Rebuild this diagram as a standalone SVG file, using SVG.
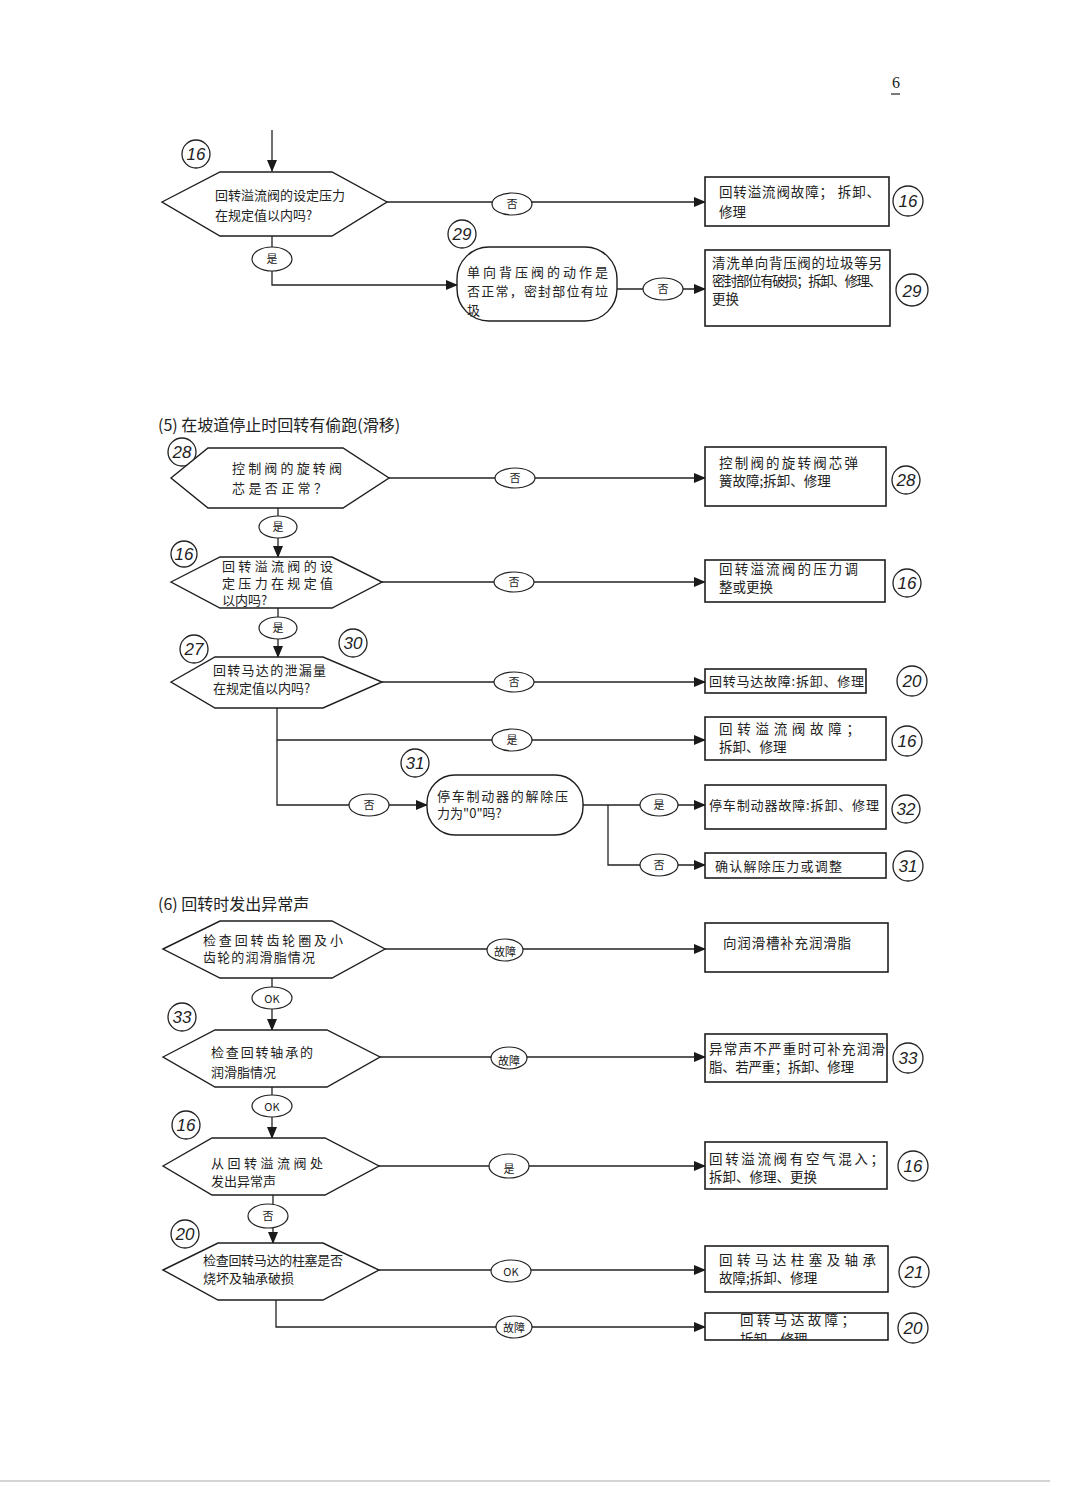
<svg xmlns="http://www.w3.org/2000/svg" width="1080" height="1486" viewBox="0 0 1080 1486">
<defs>
<marker id="arr" markerWidth="12" markerHeight="10" refX="11" refY="5" orient="auto" markerUnits="userSpaceOnUse">
<path d="M0,0 L12,5 L0,10 z" fill="#1a1a1a"/>
</marker>
<clipPath id="clip13"><rect x="705" y="1313" width="183" height="27"/></clipPath>
<style>
.shape{fill:#fff;stroke:#1e1e1e;stroke-width:1.4}
.box{fill:#fff;stroke:#1e1e1e;stroke-width:1.6}
.con{fill:none;stroke:#222;stroke-width:1.3;marker-end:url(#arr)}
.lab{fill:#fff;stroke:#222;stroke-width:1.2}
.t{font-family:"Noto Sans CJK SC","Noto Sans CJK JP",sans-serif;font-size:13px;fill:#222}
.tb{font-family:"Noto Sans CJK SC","Noto Sans CJK JP",sans-serif;font-size:13.5px;fill:#222}
.tl{font-family:"Noto Sans CJK SC","Liberation Serif",serif;font-size:11px;fill:#222;text-anchor:middle}
.num{font-family:"Liberation Sans",sans-serif;font-size:17px;font-style:italic;fill:#222;text-anchor:middle}
.ring{fill:none;stroke:#222;stroke-width:1.3}
.title{font-family:"Noto Sans CJK SC",sans-serif;font-size:16px;fill:#222}
</style>
</defs>
<rect width="1080" height="1486" fill="#fff"/>
<text x="896" y="88" font-family="Liberation Serif,serif" font-size="16" fill="#222" text-anchor="middle">6</text>
<line x1="891" y1="94" x2="900" y2="94" stroke="#333" stroke-width="1.3"/>
<line x1="0" y1="1481" x2="1050" y2="1481" stroke="#aaa" stroke-width="1.2"/>

<g id="connectors">
<path class="con" d="M272,130 V171"/>
<path class="con" d="M387,202 H705"/>
<path class="con" d="M272,236 V285 H457"/>
<path class="con" d="M617,289 H705"/>
<path class="con" d="M389,478 H705"/>
<path class="con" d="M278,508 V557"/>
<path class="con" d="M382,582 H705"/>
<path class="con" d="M278,608 V657"/>
<path class="con" d="M382,682 H705"/>
<path class="con" d="M277,708 V740 H705"/>
<path class="con" d="M277,740 V805 H427"/>
<path class="con" d="M583,805 H705"/>
<path class="con" d="M608,805 V865 H705"/>
<path class="con" d="M385,949 H705"/>
<path class="con" d="M272,978 V1030"/>
<path class="con" d="M380,1057 H705"/>
<path class="con" d="M272,1087 V1138"/>
<path class="con" d="M379,1166 H705"/>
<path class="con" d="M273,1195 V1243"/>
<path class="con" d="M379,1270 H705"/>
<path class="con" d="M276,1300 V1327 H705"/>
<g id="labels">
<ellipse class="lab" cx="512" cy="204" rx="20" ry="11"/><text class="tl" x="512" y="208">否</text>
<ellipse class="lab" cx="272" cy="259" rx="20" ry="12"/><text class="tl" x="272" y="263">是</text>
<ellipse class="lab" cx="663" cy="289" rx="20" ry="11"/><text class="tl" x="663" y="293">否</text>
<ellipse class="lab" cx="515" cy="478" rx="20" ry="10"/><text class="tl" x="515" y="482">否</text>
<ellipse class="lab" cx="278" cy="527" rx="19" ry="11"/><text class="tl" x="278" y="531">是</text>
<ellipse class="lab" cx="514" cy="582" rx="20" ry="10"/><text class="tl" x="514" y="586">否</text>
<ellipse class="lab" cx="278" cy="628" rx="19" ry="11"/><text class="tl" x="278" y="632">是</text>
<ellipse class="lab" cx="514" cy="682" rx="20" ry="10"/><text class="tl" x="514" y="686">否</text>
<ellipse class="lab" cx="512" cy="740" rx="20" ry="11"/><text class="tl" x="512" y="744">是</text>
<ellipse class="lab" cx="369" cy="805" rx="20" ry="11"/><text class="tl" x="369" y="809">否</text>
<ellipse class="lab" cx="659" cy="805" rx="19" ry="11"/><text class="tl" x="659" y="809">是</text>
<ellipse class="lab" cx="659" cy="865" rx="19" ry="11"/><text class="tl" x="659" y="869">否</text>
<ellipse class="lab" cx="505" cy="950" rx="18" ry="11"/><text class="tl" x="505" y="956" font-size="10">故障</text>
<ellipse class="lab" cx="272" cy="998" rx="20" ry="11"/><text class="tl" x="272" y="1003" font-size="13" font-family="Liberation Serif,serif">OK</text>
<ellipse class="lab" cx="509" cy="1058" rx="18" ry="11"/><text class="tl" x="509" y="1065" font-size="10">故障</text>
<ellipse class="lab" cx="272" cy="1106" rx="20" ry="11"/><text class="tl" x="272" y="1111" font-size="13" font-family="Liberation Serif,serif">OK</text>
<ellipse class="lab" cx="509" cy="1166" rx="20" ry="12"/><text class="tl" x="509" y="1173">是</text>
<ellipse class="lab" cx="268" cy="1216" rx="20" ry="12"/><text class="tl" x="268" y="1220">否</text>
<ellipse class="lab" cx="511" cy="1271" rx="20" ry="11"/><text class="tl" x="511" y="1276" font-size="13" font-family="Liberation Serif,serif">OK</text>
<ellipse class="lab" cx="514" cy="1327" rx="18" ry="11"/><text class="tl" x="514" y="1332" font-size="10">故障</text>
</g>
</g>

<!-- Top section -->
<g id="n16a">
<circle class="ring" cx="196" cy="154" r="14"/><text class="num" x="196" y="160">16</text>
<polygon class="shape" points="162,202 220,172 332,172 387,202 332,236 220,236"/>
<text class="t" x="215" y="200" textLength="130" lengthAdjust="spacing">回转溢流阀的设定压力</text>
<text class="t" x="215" y="220">在规定值以内吗?</text>
</g>
<g id="r16a">
<rect class="box" x="705" y="177" width="184" height="49"/>
<text class="tb" x="719" y="197" textLength="161" lengthAdjust="spacing">回转溢流阀故障； 拆卸、</text>
<text class="tb" x="719" y="217">修理</text>
<circle class="ring" cx="908" cy="201" r="15"/><text class="num" x="908" y="207">16</text>
</g>
<g id="n29">
<circle class="ring" cx="462" cy="234" r="14"/><text class="num" x="462" y="240">29</text>
<rect class="shape" x="457" y="247" width="160" height="74" rx="32" ry="32"/>
<text class="t" x="467" y="277" textLength="141" lengthAdjust="spacing">单向背压阀的动作是</text>
<text class="t" x="467" y="296" textLength="141" lengthAdjust="spacing">否正常，密封部位有垃</text>
<text class="t" x="467" y="315">圾</text>
</g>
<g id="r29">
<rect class="box" x="705" y="250" width="185" height="76"/>
<text class="tb" x="712" y="268" textLength="170" lengthAdjust="spacing">清洗单向背压阀的垃圾等另</text>
<text class="tb" x="712" y="286" textLength="170" lengthAdjust="spacing">密封部位有破损；拆卸、修理、</text>
<text class="tb" x="712" y="304">更换</text>
<circle class="ring" cx="912" cy="290" r="16"/><text class="num" x="912" y="297" font-size="19">29</text>
</g>

<!-- Section 5 -->
<text class="title" x="158" y="431">(5)  在坡道停止时回转有偷跑(滑移)</text>
<g id="n28">
<circle class="ring" cx="182" cy="452" r="14"/><text class="num" x="182" y="458">28</text>
<polygon class="shape" points="171,478 208,448 343,448 389,478 343,508 208,508"/>
<text class="t" x="232" y="473" textLength="110" lengthAdjust="spacing">控制阀的旋转阀</text>
<text class="t" x="232" y="493" textLength="95" lengthAdjust="spacing">芯是否正常？</text>
</g>
<g id="r28">
<rect class="box" x="705" y="447" width="181" height="59"/>
<text class="tb" x="719" y="468" textLength="139" lengthAdjust="spacing">控制阀的旋转阀芯弹</text>
<text class="tb" x="719" y="486">簧故障;拆卸、修理</text>
<circle class="ring" cx="906" cy="480" r="14"/><text class="num" x="906" y="486">28</text>
</g>
<g id="n16b">
<circle class="ring" cx="184" cy="554" r="13"/><text class="num" x="184" y="560">16</text>
<polygon class="shape" points="171,582 220,557 332,557 382,582 332,608 220,608"/>
<text class="t" x="222" y="571" font-size="12" textLength="111" lengthAdjust="spacing">回转溢流阀的设</text>
<text class="t" x="222" y="588" font-size="12" textLength="111" lengthAdjust="spacing">定压力在规定值</text>
<text class="t" x="222" y="605" font-size="12">以内吗?</text>
</g>
<g id="r16b">
<rect class="box" x="705" y="560" width="180" height="42"/>
<text class="tb" x="719" y="574" font-size="13" textLength="139" lengthAdjust="spacing">回转溢流阀的压力调</text>
<text class="tb" x="719" y="592" font-size="13">整或更换</text>
<circle class="ring" cx="907" cy="583" r="14"/><text class="num" x="907" y="589">16</text>
</g>
<g id="n27">
<circle class="ring" cx="194" cy="649" r="14"/><text class="num" x="194" y="655">27</text>
<circle class="ring" cx="353" cy="643" r="14"/><text class="num" x="353" y="649">30</text>
<polygon class="shape" points="171,682 215,657 323,657 382,682 323,708 215,708"/>
<text class="t" x="213" y="675" textLength="113" lengthAdjust="spacing">回转马达的泄漏量</text>
<text class="t" x="213" y="693">在规定值以内吗?</text>
</g>
<g id="r20a">
<rect class="box" x="705" y="669" width="161" height="24"/>
<text class="t" x="709" y="686" font-size="12" textLength="155" lengthAdjust="spacing">回转马达故障:拆卸、修理</text>
<circle class="ring" cx="912" cy="681" r="15"/><text class="num" x="912" y="687">20</text>
</g>
<g id="r16c">
<rect class="box" x="705" y="717" width="181" height="43"/>
<text class="tb" x="719" y="734" textLength="141" lengthAdjust="spacing">回转溢流阀故障；</text>
<text class="tb" x="719" y="752">拆卸、修理</text>
<circle class="ring" cx="907" cy="741" r="15"/><text class="num" x="907" y="747">16</text>
</g>
<g id="n31">
<circle class="ring" cx="415" cy="763" r="14"/><text class="num" x="415" y="769">31</text>
<rect class="shape" x="427" y="775" width="156" height="60" rx="28" ry="28"/>
<text class="t" x="437" y="801" font-size="12.5" textLength="131" lengthAdjust="spacing">停车制动器的解除压</text>
<text class="t" x="437" y="818" font-size="12">力为"0"吗?</text>
</g>
<g id="r32">
<rect class="box" x="705" y="785" width="181" height="44"/>
<text class="t" x="709" y="810" font-size="12.5" textLength="170" lengthAdjust="spacing">停车制动器故障:拆卸、修理</text>
<circle class="ring" cx="906" cy="809" r="14"/><text class="num" x="906" y="815">32</text>
</g>
<g id="r31">
<rect class="box" x="705" y="853" width="181" height="25"/>
<text class="t" x="715" y="871" font-size="12.5" textLength="127" lengthAdjust="spacing">确认解除压力或调整</text>
<circle class="ring" cx="908" cy="866" r="15"/><text class="num" x="908" y="872">31</text>
</g>

<!-- Section 6 -->
<text class="title" x="158" y="910">(6)  回转时发出异常声</text>
<g id="n-gear">
<polygon class="shape" points="163,949 220,921 332,921 385,949 332,978 220,978"/>
<text class="t" x="203" y="945" font-size="12" textLength="140" lengthAdjust="spacing">检查回转齿轮圈及小</text>
<text class="t" x="203" y="962" font-size="12" textLength="112" lengthAdjust="spacing">齿轮的润滑脂情况</text>
</g>
<g id="r-grease">
<rect class="box" x="705" y="923" width="183" height="49"/>
<text class="tb" x="723" y="948" textLength="128" lengthAdjust="spacing">向润滑槽补充润滑脂</text>
</g>
<g id="n33">
<circle class="ring" cx="182" cy="1017" r="14"/><text class="num" x="182" y="1023">33</text>
<polygon class="shape" points="163,1057 215,1030 327,1030 380,1057 327,1087 215,1087"/>
<text class="t" x="211" y="1057" textLength="102" lengthAdjust="spacing">检查回转轴承的</text>
<text class="t" x="211" y="1077">润滑脂情况</text>
</g>
<g id="r33">
<rect class="box" x="705" y="1034" width="182" height="48"/>
<text class="tb" x="709" y="1054" font-size="13" textLength="176" lengthAdjust="spacing">异常声不严重时可补充润滑</text>
<text class="tb" x="709" y="1072" font-size="13" textLength="145" lengthAdjust="spacing">脂、若严重；拆卸、修理</text>
<circle class="ring" cx="908" cy="1058" r="15"/><text class="num" x="908" y="1064">33</text>
</g>
<g id="n16c">
<circle class="ring" cx="186" cy="1125" r="14"/><text class="num" x="186" y="1131">16</text>
<polygon class="shape" points="163,1166 212,1138 325,1138 379,1166 325,1195 212,1195"/>
<text class="t" x="211" y="1168" textLength="112" lengthAdjust="spacing">从回转溢流阀处</text>
<text class="t" x="211" y="1186">发出异常声</text>
</g>
<g id="r16d">
<rect class="box" x="705" y="1142" width="182" height="47"/>
<text class="tb" x="709" y="1164" font-size="13" textLength="175" lengthAdjust="spacing">回转溢流阀有空气混入；</text>
<text class="tb" x="709" y="1182" font-size="13">拆卸、修理、更换</text>
<circle class="ring" cx="913" cy="1166" r="15"/><text class="num" x="913" y="1172">16</text>
</g>
<g id="n20">
<circle class="ring" cx="185" cy="1234" r="14"/><text class="num" x="185" y="1240">20</text>
<polygon class="shape" points="163,1270 218,1243 323,1243 379,1270 323,1300 218,1300"/>
<text class="t" x="203" y="1265" textLength="140" lengthAdjust="spacing">检查回转马达的柱塞是否</text>
<text class="t" x="203" y="1283">烧坏及轴承破损</text>
</g>
<g id="r21">
<rect class="box" x="705" y="1246" width="183" height="46"/>
<text class="tb" x="719" y="1265" textLength="157" lengthAdjust="spacing">回转马达柱塞及轴承</text>
<text class="tb" x="719" y="1283">故障;拆卸、修理</text>
<circle class="ring" cx="914" cy="1272" r="15"/><text class="num" x="914" y="1278">21</text>
</g>
<g id="r20b">
<rect class="box" x="705" y="1313" width="183" height="27"/>
<g clip-path="url(#clip13)">
<text class="tb" x="740" y="1325" font-size="13" textLength="115" lengthAdjust="spacing">回转马达故障；</text>
<text class="tb" x="740" y="1344" font-size="13">拆卸、修理</text>
</g>
<circle class="ring" cx="913" cy="1328" r="15"/><text class="num" x="913" y="1334">20</text>
</g>
</svg>
